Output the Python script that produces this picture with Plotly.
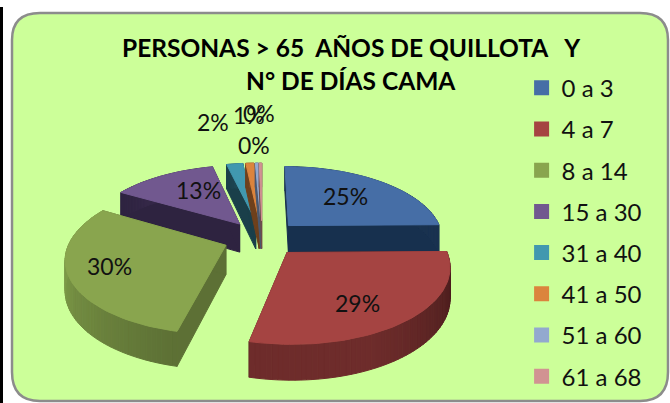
import math
import plotly.graph_objects as go

categories = ["0 a 3", "4 a 7", "8 a 14", "15 a 30", "31 a 40", "41 a 50", "51 a 60", "61 a 68"]
values = [24.8, 28.8, 29.8, 12.9, 2.0, 1.0, 0.4, 0.3]
top_colors = ["#466EA6", "#A54442", "#89A54E", "#71588F", "#4198AF", "#DB843D", "#93A9CF", "#D19392"]
wall_light = ["#1A3350", "#6E2C2B", "#7D9A48", "#3A2C4E", "#1F4A56", "#8A5024", "#5A6A86", "#855C5C"]
wall_dark = ["#17304E", "#431A1A", "#5D7035", "#2E2340", "#1A3F4A", "#6E401C", "#4A586F", "#6E4C4C"]
label_pos = [(345, 196), (357, 303), (109, 266), (198, 190), (213, 122), (249, 115), (259, 113), (254, 145)]
title_lines = ["PERSONAS &gt; 65  AÑOS DE QUILLOTA   Y", "N° DE DÍAS CAMA"]

CX, CY, RX, RY, K, EXPL, DEPTH = 262, 238, 155, 72, 0.16, 0.25, 29
FONT = "Lato"


def project(px, py, drop=0.0):
    s = 1 / (1 + K * py)
    return CX + RX * px * s, CY - RY * py * s + drop * DEPTH * s


def hexmix(a, b, t):
    ca = [int(a[i:i + 2], 16) for i in (1, 3, 5)]
    cb = [int(b[i:i + 2], 16) for i in (1, 3, 5)]
    return "#" + "".join(f"{round(x + (y - x) * t):02X}" for x, y in zip(ca, cb))


fig = go.Figure()


def poly(points, color):
    fig.add_trace(go.Scatter(x=[p[0] for p in points] + [points[0][0]],
                             y=[p[1] for p in points] + [points[0][1]],
                             mode="lines", fill="toself", fillcolor=color,
                             line=dict(color=color, width=1),
                             hoverinfo="skip", showlegend=False))


total = sum(values)
slices, acc = [], 0.0
for i, v in enumerate(values):
    a0, a1 = acc / total * 2 * math.pi, (acc + v) / total * 2 * math.pi
    acc += v
    slices.append((i, a0, a1))

# painter's order: back slices first, front slices last
order = [3, 4, 5, 6, 7, 0, 2, 1]
for i, a0, a1 in (slices[j] for j in order):
    mid = (a0 + a1) / 2
    ox, oy = EXPL * math.sin(mid), EXPL * math.cos(mid)
    n = max(2, int((a1 - a0) / 0.03))
    angs = [a0 + (a1 - a0) * k / n for k in range(n + 1)]
    rim = [(ox + math.sin(a), oy + math.cos(a)) for a in angs]
    apex = (ox, oy)
    # cut faces
    for edge in (rim[0], rim[-1]):
        poly([project(*apex), project(*edge), project(*edge, 1), project(*apex, 1)], wall_dark[i])
    # outer wall, shaded piece by piece
    for k in range(n):
        a, b = rim[k], rim[k + 1]
        t = min(1.0, 1.6 * k / n)
        col = hexmix(wall_dark[i], wall_light[i], t)
        poly([project(*a), project(*b), project(*b, 1), project(*a, 1)], col)
    poly([project(*apex)] + [project(*p) for p in rim], top_colors[i])

for name, col in zip(categories, top_colors):
    fig.add_trace(go.Scatter(x=[None], y=[None], mode="markers", name=name,
                             marker=dict(symbol="square", size=15, color=col),
                             legendgroup=name))

annotations = [dict(x=x, y=y, text=f"{v / total * 100:.0f}%", showarrow=False, xref="x", yref="y",
                    font=dict(size=23, color="#111111", family=FONT))
               for (x, y), v in zip(label_pos, values)]
for txt, y in zip(title_lines, (47, 80)):
    annotations.append(dict(x=351, y=y, text=f"<b>{txt}</b>", showarrow=False, xref="x", yref="y",
                            font=dict(size=24.5, color="black", family=FONT)))

panel = "M 12 40 Q 12 13 40 13 L 640 13 Q 668 13 668 40 L 668 372 Q 668 401 640 401 L 40 401 Q 12 401 12 372 Z"
fig.update_layout(
    width=670, height=403, margin=dict(l=0, r=0, t=0, b=0),
    paper_bgcolor="white", plot_bgcolor="rgba(0,0,0,0)",
    xaxis=dict(range=[0, 670], visible=False, fixedrange=True),
    yaxis=dict(range=[403, 0], visible=False, fixedrange=True),
    shapes=[
        dict(type="path", path=panel, xref="x", yref="y", fillcolor="#CCFF99",
             line=dict(color="#8C8C8C", width=2.5), layer="below"),
        dict(type="rect", x0=0, x1=3, y0=7, y1=403, xref="x", yref="y",
             fillcolor="black", line=dict(width=0), layer="below"),
    ],
    annotations=annotations,
    legend=dict(x=0.7785, y=0.837, xanchor="left", yanchor="top", bgcolor="rgba(0,0,0,0)",
                font=dict(size=24, color="#111111", family=FONT),
                tracegroupgap=7, itemwidth=30),
)
fig.write_html("out.html", config={"displayModeBar": False},
               post_script="document.body.style.margin='0';document.body.style.overflow='hidden';")
